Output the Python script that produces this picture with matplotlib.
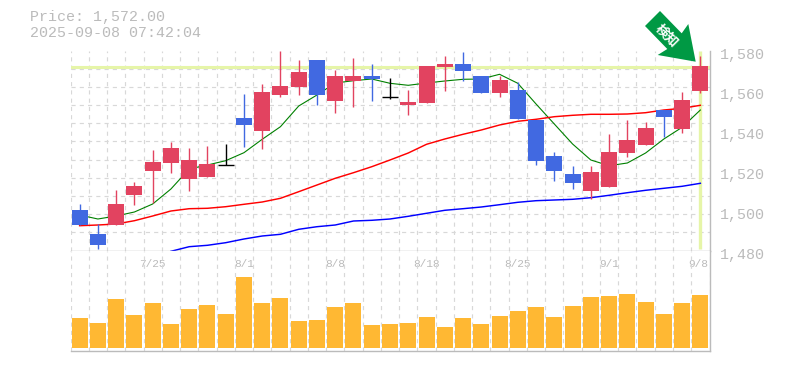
import numpy as np
import matplotlib
matplotlib.use("Agg")
import matplotlib.pyplot as plt
from matplotlib.patches import Polygon
from matplotlib.transforms import ScaledTranslation

plt.rcParams['font.family'] = ['Liberation Mono', 'DejaVu Sans Mono']

opens = [1500.25,1488.25,1492.75,1507.75,1519.75,1523.75,1515.75,1516.75,1523,1546.25,1539.75,1557.75,1561.75,1575.25,1554.75,1564.75,1567.25,1557,1552.75,1553.75,1571.75,1573.25,1567.25,1558.75,1560.25,1545.25,1527.25,1518.25,1509.75,1511.75,1528.75,1532.75,1550.25,1540.75,1559.75]
closes = [1492.75,1482.75,1503.25,1512.25,1524.25,1531.25,1525.25,1523.25,1523,1542.9,1559.25,1562.25,1569.25,1557.75,1567.25,1567.25,1565.75,1557,1554.25,1572.25,1573.25,1569.75,1558.75,1565.25,1545.75,1524.75,1519.75,1513.75,1519.25,1529.25,1535.25,1541.25,1546.75,1555.25,1572.25]
highs = [1503.25,1493.25,1510.25,1514.25,1530.25,1534.25,1531.25,1532.25,1533.25,1558.25,1563.25,1580,1575.25,1575.25,1570.25,1576.25,1573.25,1566.25,1560.25,1572.25,1577.25,1579.25,1567.25,1567.25,1564.25,1545.25,1529.25,1522.25,1522.25,1538.25,1545.25,1544.25,1550.25,1559.25,1577.25]
lows = [1492.75,1480.75,1492.75,1502.75,1503.6,1518.75,1509.75,1516.75,1523,1532,1530.75,1556.75,1557.75,1552.75,1548.75,1551.75,1554.75,1556,1547.75,1553.75,1559.75,1564.75,1558.75,1556.75,1545.75,1522.75,1514.75,1510.75,1505.75,1511.75,1526.75,1532.75,1536.75,1538.75,1558.75]
ma_short = [1497.75,1495.75,1497.25,1499.25,1503.25,1510.75,1520.75,1522.75,1524.9,1528.9,1535.6,1541.9,1552.25,1557.75,1563.75,1564.9,1565.75,1563.6,1562.6,1563.75,1564.75,1565.6,1565.75,1568.1,1563.6,1553.25,1543.25,1533.25,1525.25,1522.4,1523.75,1528.75,1535.75,1541.6,1550.25]
ma_mid = [1492.4,1492.75,1493.25,1494.9,1497.25,1499.75,1500.9,1501.1,1501.9,1503.1,1504.25,1506.1,1509.4,1512.75,1516.1,1518.9,1521.9,1525.25,1528.75,1533.1,1535.75,1538.1,1540.25,1542.75,1544.6,1545.6,1546.9,1547.6,1548.1,1548.1,1548.25,1548.9,1550.25,1551.1,1552.6]
ma_long = [1479.6,1481.9,1482.6,1483.9,1485.75,1487.25,1488.1,1490.6,1491.9,1492.75,1494.75,1495.1,1495.75,1497.1,1498.6,1500.1,1500.9,1501.75,1502.9,1504.1,1504.9,1505.25,1505.6,1506.4,1507.6,1508.9,1510.1,1511.1,1512.1,1513.6]
ma_long_start = 5
volumes = [30,25,49,33,45,24,39,43,34,71,45,50,27,28,41,45,23,24,25,31,21,30,24,32,37,41,31,42,51,52,54,46,34,45,53]
price_ticks = [1480,1500,1520,1540,1560,1580]
date_pos = [4,9,14,19,24,29,34]
date_labels = ['7/25','8/1','8/8','8/18','8/25','9/1','9/8']
last_price = 1572.0
title_lines = ['Price: 1,572.00','2025-09-08 07:42:04']
badge_text = '検知'

W, H = 785, 370
GREY = '#bbbbbb'; GRID = '#d8d8d8'; HILITE = '#e6f5a8'
UP = '#e24360'; DOWN = '#4169e1'; DOJI = '#000000'; VOL = '#ffb833'

fig = plt.figure(figsize=(W/100, H/100), dpi=100, facecolor='white')
L, R = 70.5, 709.5
def axes_px(top, bottom):
    return [L/W, 1-bottom/H, (R-L)/W, (bottom-top)/H]
ax = fig.add_axes(axes_px(50.5, 250.5))
av = fig.add_axes(axes_px(250.5, 350.5), sharex=ax)
n = len(opens)
x = np.arange(n)

for a in (ax, av):
    a.set_xlim(-0.5, n-0.5)
    a.set_xticks(np.arange(n+1)-0.5, minor=True)
    a.grid(which='minor', axis='x', color=GRID, lw=0.85, ls=(0, (3.5, 3.5)), zorder=0)
    a.set_axisbelow(True)
    a.tick_params(which='both', length=0)
    a.spines['top'].set_visible(False)
    a.spines['left'].set_visible(False)
    a.spines['right'].set_color(GREY)
    a.spines['bottom'].set_color(GREY)
    a.spines['right'].set_linewidth(1.0)
    a.spines['bottom'].set_linewidth(1.0)

ax.set_ylim(1480, 1580)
ax.set_yticks(np.linspace(1480, 1580, 12), minor=True)
ax.grid(which='minor', axis='y', color=GRID, lw=0.85, ls=(0, (3.5, 3.5)), zorder=0)
ax.yaxis.tick_right()
ax.set_yticks(price_ticks)
ax.set_yticklabels([f'{v:,}' for v in price_ticks], fontsize=10.8, color=GREY)
ax.tick_params(axis='y', pad=7.5)
off = ScaledTranslation(0, -2.5/100, fig.dpi_scale_trans)
for lab in ax.get_yticklabels():
    lab.set_transform(lab.get_transform() + off)
ax.tick_params(axis='x', labelbottom=False)

ax.axhline(last_price, color=HILITE, lw=2.2, zorder=1)
ax.plot([x[-1], x[-1]], [1481, 1580], color=HILITE, lw=2.4, solid_capstyle='butt', zorder=1)

ax.plot(x, ma_short, color='#008000', lw=0.8, zorder=2)
ax.plot(x, ma_mid, color='#ff0000', lw=1.05, zorder=2)
ax.plot(x[ma_long_start:], ma_long, color='#0000ff', lw=1.05, zorder=2)

for i in range(n):
    o, c, h, l = opens[i], closes[i], highs[i], lows[i]
    col = UP if c > o else DOWN if c < o else DOJI
    ax.vlines(i, l, h, color=col, lw=1.0, zorder=3)
    if c == o:
        ax.hlines(c, i-0.44, i+0.44, color=col, lw=1.0, zorder=3)
    else:
        ax.bar(i, abs(c-o), bottom=min(o, c), width=0.876, color=col, lw=0, zorder=4)

av.set_ylim(-2.5, 97.5)
av.set_yticks([])
av.bar(x, volumes, width=0.876, color=VOL, lw=0, zorder=3)
av.set_xticks(date_pos)
av.set_xticklabels(date_labels)
av.tick_params(axis='x', which='major', top=False, bottom=False, labeltop=True,
               labelbottom=False, pad=-13.4, labelsize=8, labelcolor=GREY)
shift = ScaledTranslation(-2/100, 0, fig.dpi_scale_trans)
last_lab = av.get_xticklabels()[-1]
last_lab.set_transform(last_lab.get_transform() + shift)

fig.text(30/W, 1-17.5/H, title_lines[0], fontsize=10.8, color=GREY, va='center', ha='left')
fig.text(30/W, 1-33/H, title_lines[1], fontsize=10.8, color=GREY, va='center', ha='left')

arrow_px = [(660,11),(645,26),(667.3,49),(657.7,55),(695.7,61.7),(688.3,24),(681.7,33.3)]
pts = [(px/W, 1-py/H) for px, py in arrow_px]
fig.add_artist(Polygon(pts, closed=True, transform=fig.transFigure, fc='#009944', ec='none', zorder=10))
fig.text(666.5/W, 1-35.5/H, badge_text, fontsize=9.5, color='white', rotation=-45, weight='bold',
         family=['Noto Sans CJK JP', 'DejaVu Sans'], ha='center', va='center', rotation_mode='anchor', zorder=11)

fig.savefig('out.png', dpi=100, facecolor='white')
